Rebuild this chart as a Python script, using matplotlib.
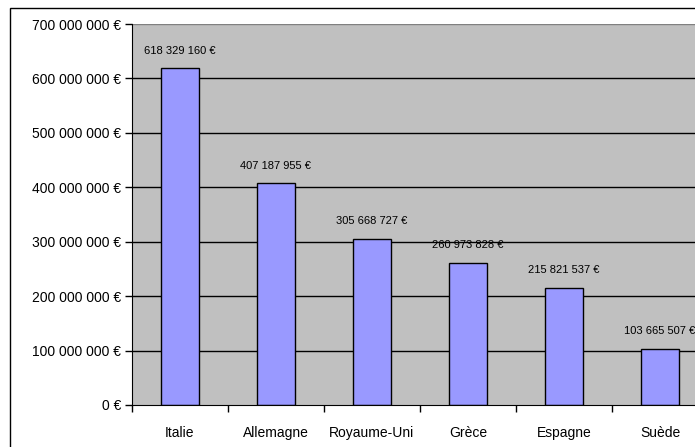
import matplotlib
matplotlib.use("Agg")
import matplotlib.pyplot as plt
from matplotlib.patches import Rectangle
from matplotlib.ticker import FixedLocator, NullFormatter, FixedFormatter

plt.rcParams['font.family'] = ['Liberation Sans', 'DejaVu Sans']

countries = ["Italie", "Allemagne", "Royaume-Uni", "Grèce", "Espagne", "Suède"]
values = [618329160, 407187955, 305668727, 260973828, 215821537, 103665507]
value_labels = ["618 329 160 €", "407 187 955 €", "305 668 727 €",
                "260 973 828 €", "215 821 537 €", "103 665 507 €"]
yticks = [0, 100e6, 200e6, 300e6, 400e6, 500e6, 600e6, 700e6]
ytick_labels = ["0 €", "100 000 000 €", "200 000 000 €", "300 000 000 €",
                "400 000 000 €", "500 000 000 €", "600 000 000 €", "700 000 000 €"]

W, H = 695, 447
fig = plt.figure(figsize=(W / 100, H / 100), dpi=100)
fig.patch.set_facecolor("white")

# outer chart border (cropped at right and bottom)
fig.add_artist(Rectangle((10 / W, -0.1), 1.2, (H - 8) / H + 0.1,
                         transform=fig.transFigure, fill=False,
                         edgecolor="black", linewidth=1.0))

ax = fig.add_axes([132 / W, (H - 405) / H, (708 - 132) / W, (405 - 24) / H])
ax.set_facecolor("#C0C0C0")
ax.set_xlim(-0.5, len(countries) - 0.5)
ax.set_ylim(0, 700e6)

for y in yticks[1:-1]:
    ax.axhline(y, color="black", linewidth=1.0, zorder=1)

x = list(range(len(countries)))
ax.bar(x, values, width=0.4, color="#9999FF", edgecolor="black",
       linewidth=1.0, zorder=2)

for xi, v, lab in zip(x, values, value_labels):
    ax.annotate(lab, (xi, v), xytext=(0, 9), textcoords="offset points",
                ha="center", va="bottom", fontsize=8, color="black",
                annotation_clip=False)

ax.yaxis.set_major_locator(FixedLocator(yticks))
ax.yaxis.set_major_formatter(FixedFormatter(ytick_labels))
ax.tick_params(axis="y", direction="out", length=5, width=1, labelsize=10,
               pad=3, colors="black")

ax.xaxis.set_major_locator(FixedLocator([i - 0.5 for i in range(len(countries) + 1)]))
ax.xaxis.set_major_formatter(NullFormatter())
ax.xaxis.set_minor_locator(FixedLocator(x))
ax.xaxis.set_minor_formatter(FixedFormatter(countries))
ax.tick_params(axis="x", which="major", direction="out", length=5, width=1)
ax.tick_params(axis="x", which="minor", length=0, labelsize=10, pad=15)

for side in ["top", "right"]:
    ax.spines[side].set_visible(False)
ax.spines["left"].set_color("black")
ax.spines["bottom"].set_color("black")
ax.axhline(700e6, color="#808080", linewidth=1.0, zorder=1)

fig.savefig("out.png", dpi=100)
